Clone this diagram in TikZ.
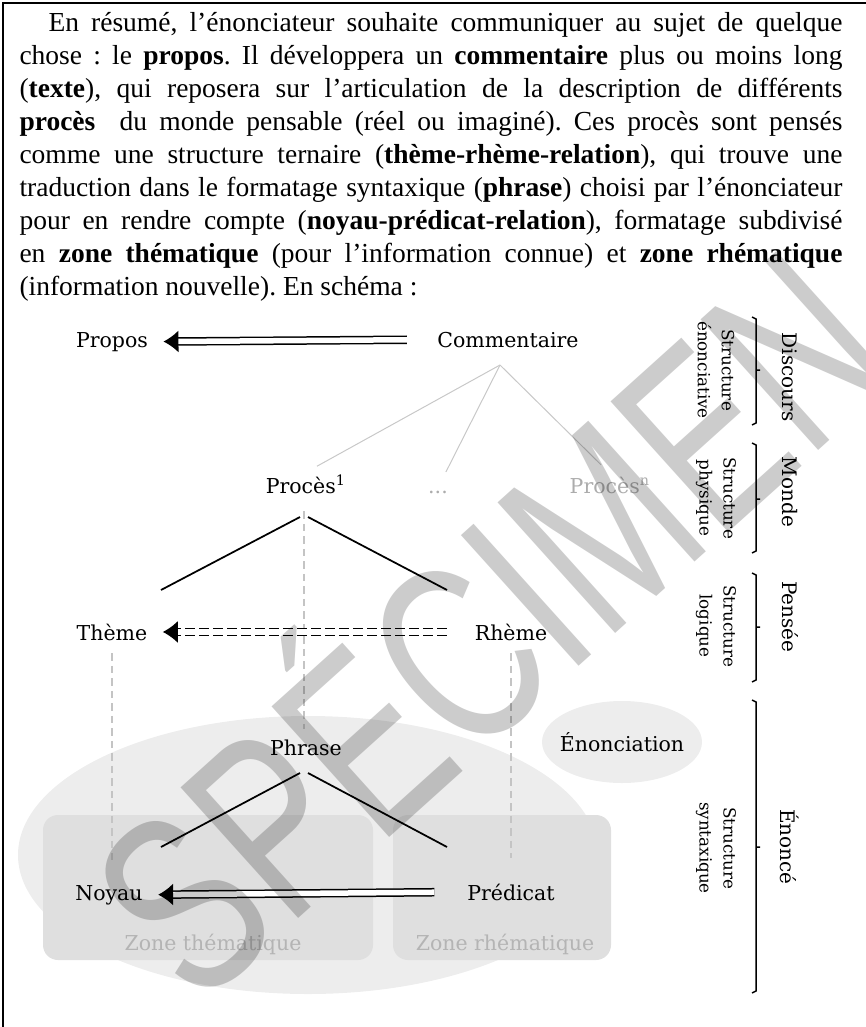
\documentclass[tikz,border=0pt]{standalone}
\usepackage{fontspec}
\setmainfont{Liberation Serif}
\newfontfamily\diagfont{DejaVu Serif}
\newfontfamily\markfont{Liberation Sans}
\usepackage{xcolor}
\usepackage{tikz}
\usetikzlibrary{arrows.meta}
\definecolor{fanline}{HTML}{C8C8C8}
\definecolor{guideline}{HTML}{C4C4C4}
\definecolor{bigoval}{HTML}{EDEDED}
\definecolor{zonebox}{HTML}{DFDFDF}
\definecolor{zonetxt}{HTML}{B4B4B4}
\definecolor{faded}{HTML}{ACACAC}

\begin{document}
\frenchspacing
\begin{tikzpicture}[x=0.4pt,y=-0.4pt]
\tikzstyle{lbl}=[font=\diagfont\fontsize{8.2}{10}\selectfont, inner sep=1pt, anchor=base]
\tikzstyle{lvl}=[font=\diagfont\fontsize{8}{10}\selectfont, rotate=-90, inner sep=0pt]
\tikzstyle{strc}=[font=\diagfont\fontsize{6.7}{9.6}\selectfont, rotate=-90, align=center, inner sep=0pt]
\tikzstyle{fan}=[draw=fanline, line width=0.4pt]
\tikzstyle{branch}=[draw=black, line width=0.7pt]
\tikzstyle{guide}=[draw=guideline, line width=0.5pt, dash pattern=on 3pt off 2pt]
\tikzstyle{dblarrow}=[double, double distance=2.2pt, line width=0.6pt, -{Latex[length=6pt,width=8.8pt]}]
\tikzstyle{brk}=[draw=black, line width=0.6pt]
\useasboundingbox (0,0) rectangle (866,1027);
%
\draw[line width=1pt] (3,1027) -- (3,3) -- (866,3);
\node[anchor=north west, inner sep=0pt, text width=329.2pt, align=justify,
  font=\fontsize{11}{13.2}\selectfont] (intro) at (19,12) {\hspace*{11.6pt}En résumé, l’énonciateur souhaite communiquer au sujet de quelque\linebreak
chose : le \textbf{propos}. Il développera un \textbf{commentaire} plus ou moins long\linebreak
(\textbf{texte}), qui reposera sur l’articulation de la description de différents\linebreak
\textbf{procès}\ \ du monde pensable (réel ou imaginé). Ces procès sont pensés\linebreak
comme une structure ternaire (\textbf{thème-rhème-relation}), qui trouve une\linebreak
traduction dans le formatage syntaxique (\textbf{phrase}) choisi par l’énonciateur\linebreak
pour en rendre compte (\textbf{noyau-prédicat-relation}), formatage subdivisé\linebreak
en \textbf{zone thématique} (pour l’information connue) et \textbf{zone rhématique}\linebreak
(information nouvelle). En schéma :};
%
\fill[bigoval] (308,855) ellipse [x radius=290, y radius=139];
\fill[zonebox, rounded corners=6pt] (43,815) rectangle (373,960);
\fill[zonebox, rounded corners=6pt] (393,815) rectangle (611,960);
\fill[bigoval] (622,742) ellipse [x radius=80, y radius=41];
%
\node[lbl] (propos) at (112,347) {Propos};
\node[lbl] (comment) at (508,347) {Commentaire};
\node[lbl] (proces1) at (306,493) {Procès\textsuperscript{1}};
\node[lbl, text=faded] (dots) at (438,493) {...};
\node[lbl, text=faded] (procesn) at (610,493) {Procès\textsuperscript{n}};
\node[lbl] (theme) at (112,640) {Thème};
\node[lbl] (rheme) at (511,640) {Rhème};
\node[lbl] (phrase) at (306,755) {Phrase};
\node[lbl] (enonciation) at (622,751) {Énonciation};
\node[lbl] (noyau) at (109,900) {Noyau};
\node[lbl] (predicat) at (511,900) {Prédicat};
\node[lbl, text=zonetxt] (zoneth) at (213,950) {Zone thématique};
\node[lbl, text=zonetxt] (zonerh) at (505,950) {Zone rhématique};
%
\coordinate (commapex) at (500,365);
\draw[fan, shorten >=5pt] (commapex) -- (proces1.north);
\draw[fan, shorten >=7pt] (commapex) -- (dots.north);
\draw[fan, shorten >=5pt] (commapex) -- (procesn.north);
%
\coordinate (p1l) at (300,517); \coordinate (p1r) at (308,517);
\coordinate (thtop) at (161,590); \coordinate (rhtop) at (447,590);
\draw[branch] (p1l) -- (thtop);
\draw[branch] (p1r) -- (rhtop);
\coordinate (phl) at (300,773); \coordinate (phr) at (308,773);
\coordinate (nytop) at (161,847); \coordinate (prtop) at (447,847);
\draw[branch] (phl) -- (nytop);
\draw[branch] (phr) -- (prtop);
%
\draw[guide, shorten <=4pt, shorten >=9pt] (theme.south) -- (theme.south |- noyau.north);
\draw[guide, shorten <=4pt, shorten >=9pt] (rheme.south) -- (rheme.south |- predicat.north);
\draw[guide, shorten <=6pt, shorten >=3pt] ([xshift=-0.8pt]proces1.south) -- ([xshift=-0.8pt]proces1.south |- phrase.north);
%
\draw[dblarrow, shorten <=11pt, shorten >=5pt] (comment.west) -- (propos.east);
\draw[dblarrow, dash pattern=on 4pt off 1.6pt, shorten <=10pt, shorten >=5pt] (rheme.west) -- (theme.east);
\draw[dblarrow, shorten <=12pt, shorten >=5pt] (predicat.west) -- (noyau.east);
%
\foreach \t/\m/\b in {317/370/425,443/499/553,573/627/682,700/847/993}
  \draw[brk] (752,\t) -- (756,\t+2) -- (756,\m) -- (760,\m) -- (756,\m) -- (756,\b-2) -- (752,\b);
\node[lvl] (discours) at (790,377) {Discours};
\node[lvl] (monde) at (790,492) {Monde};
\node[lvl] (pensee) at (790,617) {Pensée};
\node[lvl] (enonce) at (790,847) {Énoncé};
\node[strc] (strenon) at (716,370) {Structure\\énonciative};
\node[strc] (strphys) at (716,498) {Structure\\physique};
\node[strc] (strlog) at (716,626) {Structure\\logique};
\node[strc] (strsynt) at (716,848) {Structure\\syntaxique};
%
\node[rotate=42, yscale=1.4, font=\markfont\fontsize{73}{73}\selectfont, text=black, opacity=0.2] (specimen) at (478,610) {SPÉCIMEN};
\end{tikzpicture}
\end{document}
